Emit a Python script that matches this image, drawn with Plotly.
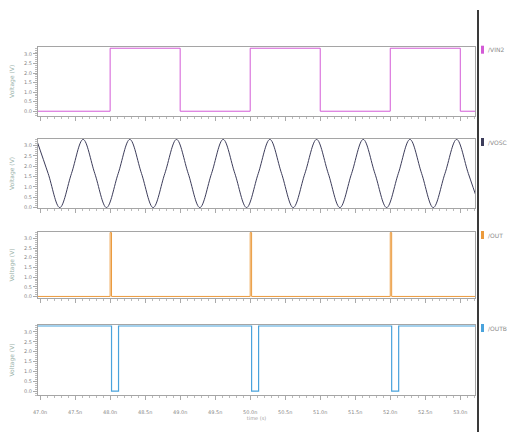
import plotly.graph_objects as go
from plotly.subplots import make_subplots

# ---- data (times in ns, voltages in V) ----
sq_t = [46.90, 48.0, 49.0, 50.0, 51.0, 52.0, 53.0, 53.30]
sq_v = [0.0, 3.3, 0.0, 3.3, 0.0, 3.3, 0.0, 0.0]

osc_t = [46.948, 47.115, 47.281, 47.448, 47.614, 47.781, 47.948, 48.115, 48.281,
         48.448, 48.614, 48.781, 48.948, 49.115, 49.281, 49.448, 49.614, 49.781,
         49.948, 50.115, 50.281, 50.448, 50.614, 50.781, 50.948, 51.115, 51.281,
         51.448, 51.614, 51.781, 51.948, 52.115, 52.281, 52.448, 52.614, 52.781,
         52.948, 53.115, 53.281]
osc_v = [3.3, 1.65, 0.0, 1.65, 3.3, 1.65, 0.0, 1.65, 3.3,
         1.65, 0.0, 1.65, 3.3, 1.65, 0.0, 1.65, 3.3, 1.65,
         0.0, 1.65, 3.3, 1.65, 0.0, 1.65, 3.3, 1.65, 0.0,
         1.65, 3.3, 1.65, 0.0, 1.65, 3.3, 1.65, 0.0, 1.65,
         3.3, 1.65, 0.0]

out_t = [46.90, 48.0, 48.02, 50.0, 50.02, 52.0, 52.02, 53.30]
out_v = [0.0, 3.3, 0.0, 3.3, 0.0, 3.3, 0.0, 0.0]

outb_t = [46.90, 48.02, 48.12, 50.02, 50.12, 52.02, 52.12, 53.30]
outb_v = [3.3, 0.0, 3.3, 0.0, 3.3, 0.0, 3.3, 3.3]

names = ["/VIN2", "/VOSC", "/OUT", "/OUTB"]
colors = ["#d35ad6", "#3c3c5a", "#eb9a3c", "#4aa3dc"]

x_ticks = [47.0 + 0.5 * i for i in range(13)]
x_labels = ["%.1fn" % v for v in x_ticks]

W, H = 507, 432
fig = make_subplots(rows=4, cols=1, shared_xaxes=True)

fig.add_trace(go.Scatter(x=sq_t, y=sq_v, mode="lines", line=dict(color=colors[0], width=1, shape="hv"), name=names[0]), row=1, col=1)
fig.add_trace(go.Scatter(x=osc_t, y=osc_v, mode="lines", line=dict(color=colors[1], width=1, shape="spline", smoothing=1.0), name=names[1]), row=2, col=1)
fig.add_trace(go.Scatter(x=out_t, y=out_v, mode="lines", line=dict(color=colors[2], width=1, shape="hv"), name=names[2]), row=3, col=1)
fig.add_trace(go.Scatter(x=outb_t, y=outb_v, mode="lines", line=dict(color=colors[3], width=1.2, shape="hv"), name=names[3]), row=4, col=1)

def py(px):
    return 1 - px / H

x0, x1 = 38 / W, 475 / W
panels = [(46.7, 116), (139, 208), (232, 298), (325, 395)]
yranges = [[-0.25, 3.38], [-0.02, 3.32], [-0.08, 3.33], [-0.2, 3.35]]

tick_font = dict(family="DejaVu Sans", size=5, color="#888888")
for i, (top, bot) in enumerate(panels):
    r = i + 1
    fig.update_yaxes(row=r, col=1, domain=[py(bot), py(top)], range=yranges[i], automargin=False,
                     showline=True, mirror=True, linecolor="#a5a5a5", linewidth=1,
                     showgrid=False, zeroline=False,
                     ticks="outside", ticklen=4, tickcolor="#aaaaaa", tickwidth=0.6,
                     dtick=0.5, tick0=0, tickformat=".1f", tickfont=tick_font,
                     minor=dict(ticks="outside", ticklen=2, dtick=0.1, tickcolor="#bbbbbb", tickwidth=0.5),
                     title=dict(text="Voltage (V)", font=dict(family="DejaVu Sans", size=6, color="#98b0a8"), standoff=8))
    fig.update_xaxes(row=r, col=1, domain=[x0, x1], range=[46.97, 53.21], automargin=False,
                     showline=True, mirror=True, linecolor="#a5a5a5", linewidth=1,
                     showgrid=False, zeroline=False,
                     ticks="outside", ticklen=4, tickcolor="#aaaaaa", tickwidth=0.6,
                     tickvals=x_ticks, ticktext=x_labels,
                     minor=dict(ticks="outside", ticklen=2, dtick=0.1, tickcolor="#bbbbbb", tickwidth=0.5),
                     showticklabels=(r == 4), tickfont=tick_font)

fig.update_xaxes(row=4, col=1, ticklabelstandoff=8,
                 title=dict(text="time (s)", font=dict(family="DejaVu Sans", size=5, color="#a0a0a0"), standoff=2))

shapes = [dict(type="line", xref="paper", yref="paper", x0=478 / W, x1=478 / W, y0=0, y1=py(10),
               line=dict(color="#3a3a3a", width=2))]
annotations = []
for i, (top, bot) in enumerate(panels):
    yc = py(top + 3)
    shapes.append(dict(type="rect", xref="paper", yref="paper", x0=481 / W, x1=484 / W,
                       y0=yc - 4 / H, y1=yc + 4 / H, fillcolor=colors[i], line=dict(width=0)))
    annotations.append(dict(text=names[i], xref="paper", yref="paper", x=486 / W, y=yc,
                            xanchor="left", yanchor="middle", showarrow=False,
                            font=dict(family="DejaVu Sans", size=6, color="#8a8a8a")))

fig.update_layout(width=W, height=H, autosize=False, margin=dict(l=0, r=0, t=0, b=0),
                  paper_bgcolor="white", plot_bgcolor="white", showlegend=False,
                  shapes=shapes, annotations=annotations)

fig.write_html("out.html", config={"displayModeBar": False},
               post_script="document.body.style.margin='0px';document.body.style.overflow='hidden';")
